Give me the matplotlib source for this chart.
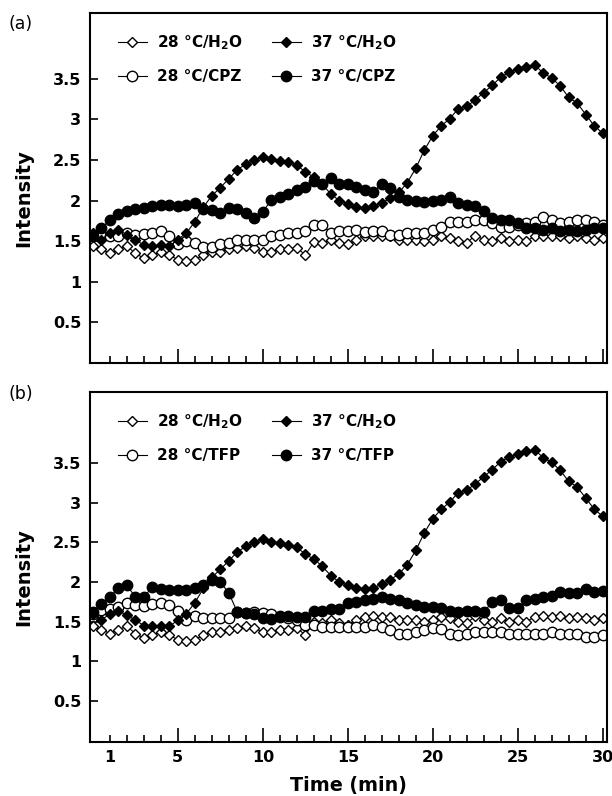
import matplotlib
matplotlib.use("Agg")
import matplotlib.pyplot as plt
import numpy as np

plt.rcParams['font.family'] = ['DejaVu Sans']
plt.rcParams['font.weight'] = 'bold'
plt.rcParams['mathtext.fontset'] = 'custom'
plt.rcParams['mathtext.rm'] = 'DejaVu Sans:bold'
plt.rcParams['mathtext.bf'] = 'DejaVu Sans:bold'
plt.rcParams['mathtext.it'] = 'DejaVu Sans:bold'

# --- Data (time in min, one reading every 0.5 min) ---
time = np.arange(0, 30.5, 0.5)

h2o_28 = [1.44, 1.40, 1.35, 1.40, 1.44, 1.35, 1.29, 1.33, 1.37, 1.33,
          1.27, 1.25, 1.27, 1.33, 1.37, 1.37, 1.40, 1.42, 1.44, 1.42,
          1.37, 1.37, 1.40, 1.40, 1.42, 1.33, 1.49, 1.48, 1.52, 1.48,
          1.46, 1.52, 1.56, 1.57, 1.56, 1.56, 1.52, 1.52, 1.52, 1.50,
          1.52, 1.56, 1.54, 1.50, 1.48, 1.57, 1.52, 1.50, 1.54, 1.50,
          1.52, 1.50, 1.56, 1.57, 1.56, 1.57, 1.54, 1.56, 1.54, 1.52,
          1.54]
h2o_37 = [1.60, 1.52, 1.60, 1.64, 1.58, 1.52, 1.45, 1.44, 1.45, 1.44,
          1.52, 1.60, 1.74, 1.92, 2.06, 2.16, 2.27, 2.38, 2.45, 2.50,
          2.54, 2.51, 2.49, 2.47, 2.44, 2.35, 2.29, 2.20, 2.08, 2.00,
          1.96, 1.92, 1.91, 1.93, 1.97, 2.03, 2.10, 2.22, 2.40, 2.62,
          2.80, 2.92, 3.01, 3.13, 3.16, 3.24, 3.33, 3.42, 3.52, 3.58,
          3.62, 3.65, 3.67, 3.57, 3.51, 3.41, 3.27, 3.20, 3.06, 2.92,
          2.83]
cpz_28 = [1.56, 1.56, 1.56, 1.56, 1.60, 1.58, 1.59, 1.60, 1.62, 1.56,
          1.46, 1.50, 1.48, 1.43, 1.43, 1.46, 1.48, 1.52, 1.51, 1.51,
          1.52, 1.56, 1.58, 1.60, 1.60, 1.62, 1.70, 1.70, 1.60, 1.62,
          1.62, 1.64, 1.61, 1.62, 1.62, 1.58, 1.58, 1.60, 1.60, 1.60,
          1.64, 1.68, 1.74, 1.74, 1.74, 1.76, 1.76, 1.72, 1.68, 1.68,
          1.70, 1.72, 1.74, 1.80, 1.76, 1.72, 1.74, 1.76, 1.76, 1.74,
          1.70]
cpz_37 = [1.57, 1.66, 1.76, 1.83, 1.87, 1.90, 1.91, 1.93, 1.94, 1.94,
          1.93, 1.94, 1.97, 1.90, 1.89, 1.85, 1.91, 1.90, 1.85, 1.79,
          1.86, 2.01, 2.05, 2.08, 2.13, 2.17, 2.24, 2.20, 2.28, 2.20,
          2.20, 2.17, 2.13, 2.11, 2.20, 2.16, 2.05, 2.01, 1.99, 1.98,
          1.99, 2.01, 2.05, 1.97, 1.94, 1.93, 1.87, 1.79, 1.76, 1.76,
          1.72, 1.66, 1.66, 1.64, 1.66, 1.62, 1.64, 1.62, 1.64, 1.66,
          1.66]
tfp_28 = [1.60, 1.65, 1.66, 1.69, 1.74, 1.71, 1.70, 1.72, 1.73, 1.71,
          1.64, 1.52, 1.57, 1.55, 1.55, 1.55, 1.55, 1.62, 1.61, 1.62,
          1.61, 1.60, 1.56, 1.55, 1.52, 1.46, 1.46, 1.43, 1.43, 1.43,
          1.43, 1.43, 1.43, 1.46, 1.43, 1.39, 1.35, 1.35, 1.37, 1.40,
          1.42, 1.41, 1.35, 1.33, 1.34, 1.37, 1.37, 1.37, 1.37, 1.35,
          1.35, 1.35, 1.35, 1.35, 1.37, 1.35, 1.35, 1.35, 1.31, 1.31,
          1.33]
tfp_37 = [1.62, 1.72, 1.81, 1.93, 1.96, 1.81, 1.81, 1.94, 1.91, 1.90,
          1.90, 1.90, 1.92, 1.96, 2.03, 2.00, 1.86, 1.62, 1.61, 1.60,
          1.55, 1.53, 1.57, 1.57, 1.56, 1.56, 1.64, 1.64, 1.66, 1.66,
          1.73, 1.75, 1.77, 1.79, 1.81, 1.79, 1.77, 1.73, 1.71, 1.69,
          1.69, 1.67, 1.64, 1.62, 1.64, 1.64, 1.62, 1.75, 1.77, 1.67,
          1.67, 1.77, 1.79, 1.81, 1.82, 1.88, 1.86, 1.86, 1.91, 1.88,
          1.89]

y_ticks = [0.5, 1, 1.5, 2, 2.5, 3, 3.5]
y_tick_labels = ['0.5', '1', '1.5', '2', '2.5', '3', '3.5']
x_ticks = [1, 5, 10, 15, 20, 25, 30]

h2o_label = ['28 °C/H$_2$O', '37 °C/H$_2$O']


def draw_panel(ax, drug_28, drug_37, drug_name, ylim, show_x):
    st = dict(color='black', lw=0.8, mec='black', mew=1.0)
    l1, = ax.plot(time, h2o_28, marker='D', ms=5.2, mfc='white', **st)
    l2, = ax.plot(time, drug_28, marker='o', ms=7.5, mfc='white', **st)
    l3, = ax.plot(time, h2o_37, marker='D', ms=5.2, mfc='black', **st)
    l4, = ax.plot(time, drug_37, marker='o', ms=7.5, mfc='black', **st)

    ax.set_xlim(-0.2, 30.25)
    ax.set_ylim(*ylim)
    ax.set_yticks(y_ticks)
    ax.set_yticklabels(y_tick_labels)
    ax.set_xticks(x_ticks)
    ax.set_xticks(np.arange(1, 30), minor=True)
    ax.tick_params(axis='both', which='both', direction='in', labelsize=11.5,
                   width=1.2, pad=6)
    ax.tick_params(axis='y', length=6)
    ax.tick_params(axis='x', which='major', length=10)
    ax.tick_params(axis='x', which='minor', length=5)
    ax.xaxis.get_major_ticks()[0].tick1line.set_markersize(5)
    if not show_x:
        ax.tick_params(axis='x', labelbottom=False)
    for sp in ax.spines.values():
        sp.set_linewidth(1.5)

    ax.set_ylabel('Intensity', fontsize=14, fontweight='bold')
    ax.yaxis.set_label_coords(-0.108, 0.47)

    labels = [h2o_label[0], '28 °C/' + drug_name, h2o_label[1], '37 °C/' + drug_name]
    ax.legend([l1, l2, l3, l4], labels, ncol=2, frameon=False, loc='upper left',
              bbox_to_anchor=(0.043, 0.96), borderaxespad=0,
              prop={'weight': 'bold', 'size': 11}, handlelength=1.9,
              handletextpad=0.65, columnspacing=1.9, labelspacing=1.15)


fig = plt.figure(figsize=(6.12, 7.96), dpi=100)
ax_a = fig.add_axes([89.5 / 612, 1 - 363 / 796, 517.5 / 612, 350 / 796])
ax_b = fig.add_axes([89.5 / 612, 1 - 742 / 796, 517.5 / 612, 350 / 796])

draw_panel(ax_a, cpz_28, cpz_37, 'CPZ', (0, 4.31), False)
draw_panel(ax_b, tfp_28, tfp_37, 'TFP', (-0.02, 4.40), True)
ax_b.set_xlabel('Time (min)', fontsize=13.8, fontweight='bold', labelpad=8)

fig.text(8 / 612, 1 - 24 / 796, '(a)', fontsize=12.5, fontweight='normal', va='center')
fig.text(8 / 612, 1 - 394 / 796, '(b)', fontsize=12.5, fontweight='normal', va='center')

fig.savefig('out.png', dpi=100)
